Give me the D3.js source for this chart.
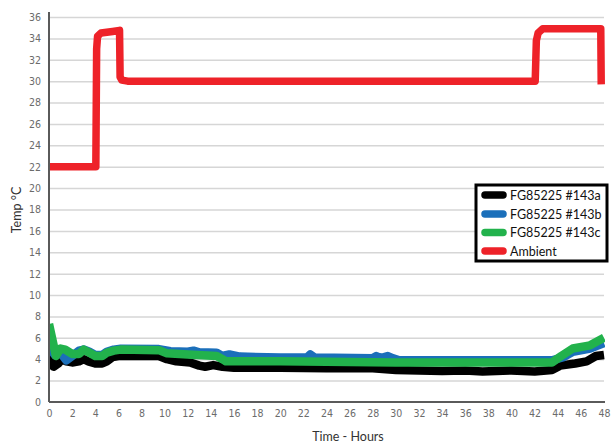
<!DOCTYPE html>
<html>
<head>
<meta charset="utf-8">
<script src="https://cdn.jsdelivr.net/npm/d3@7/dist/d3.min.js"></script>
<style>
  html, body { margin: 0; padding: 0; background: #fff; }
  svg { display: block; }
</style>
</head>
<body>
<svg id="chart" width="611" height="443"></svg>
<script>
// ---- Data ----
const seriesNames = ["FG85225 #143a", "FG85225 #143b", "FG85225 #143c", "Ambient"];
const xTicks = d3.range(0, 49, 2);
const yTicks = d3.range(0, 37, 2);

const timeA = [0, 0.4, 0.8, 1.1, 1.5, 2.0, 2.6, 3.0, 3.4, 4.0, 4.6, 5.0, 5.5, 6.0, 9.5, 10.2, 11, 12.2, 13.0, 13.5, 14.2, 15, 16, 20, 24, 28, 30, 34, 36, 37.5, 40, 42, 43.5, 44.2, 45.5, 46.5, 47.3, 48];
const valsA = [4.4, 3.3, 3.6, 4.0, 3.8, 3.7, 3.8, 4.0, 3.8, 3.6, 3.6, 3.8, 4.2, 4.3, 4.3, 4.0, 3.8, 3.7, 3.4, 3.3, 3.45, 3.3, 3.2, 3.2, 3.15, 3.15, 3.0, 2.9, 2.95, 2.85, 2.95, 2.85, 3.0, 3.4, 3.6, 3.8, 4.3, 4.4];

const timeB = [0, 0.5, 1.0, 1.5, 2.0, 2.6, 3.0, 3.5, 4.0, 4.6, 5.0, 5.6, 6.2, 9.5, 10.5, 12, 12.5, 13, 14.5, 15, 15.6, 16.5, 20, 22.3, 22.6, 23, 28, 28.3, 28.7, 29.3, 29.7, 30.3, 43.5, 44.5, 45.3, 46.8, 48];
const valsB = [5.2, 4.4, 4.6, 3.9, 4.3, 4.8, 4.9, 4.7, 4.4, 4.4, 4.7, 4.9, 4.98, 4.95, 4.75, 4.7, 4.8, 4.65, 4.6, 4.3, 4.45, 4.25, 4.15, 4.15, 4.45, 4.15, 4.1, 4.3, 4.1, 4.3, 4.1, 3.9, 3.9, 4.2, 4.7, 5.0, 5.5];

const timeC = [0, 0.6, 1.0, 1.4, 2.0, 2.6, 3.0, 3.5, 4.0, 4.6, 5.0, 5.6, 6.2, 9.5, 10.2, 12, 14.5, 15.0, 15.3, 20, 30, 43.5, 44.3, 45.3, 46.8, 48];
const valsC = [7.3, 4.3, 5.0, 4.9, 4.5, 4.5, 4.9, 4.6, 4.3, 4.3, 4.6, 4.8, 4.9, 4.85, 4.55, 4.45, 4.3, 4.0, 3.8, 3.8, 3.7, 3.7, 4.3, 5.0, 5.3, 6.0];

const timeAmb = [0, 4.05, 4.12, 4.2, 4.5, 5.5, 6.1, 6.15, 6.3, 6.8, 42.05, 42.15, 42.3, 42.7, 47.72, 47.76];
const valsAmb = [22, 22, 33.0, 34.2, 34.5, 34.65, 34.75, 30.4, 30.1, 30.0, 30.0, 33.8, 34.5, 34.9, 34.9, 29.7];

const colors = ["#000000", "#1b6fba", "#22b24c", "#ee2229"];

// ---- Layout ----
const svg = d3.select("#chart");
const mLeft = 49, mRight = 604, mTop = 17, mBottom = 402;

const x = d3.scaleLinear().domain([0, 48]).range([mLeft, mRight]);
const y = d3.scaleLinear().domain([0, 36]).range([mBottom, mTop]);

// gridlines
svg.append("g")
  .attr("transform", `translate(${mLeft},0)`)
  .call(d3.axisLeft(y).tickValues(yTicks.filter(v => v > 0)).tickSize(-(mRight - mLeft)).tickFormat(""))
  .call(g => g.select(".domain").remove())
  .call(g => g.selectAll("line").attr("stroke", "#d6d6d6").attr("stroke-width", 1.5));

// y tick labels
svg.append("g")
  .attr("transform", `translate(${mLeft},0)`)
  .call(d3.axisLeft(y).tickValues(yTicks).tickSize(0).tickPadding(8))
  .call(g => g.select(".domain").remove())
  .call(g => g.selectAll("text")
    .attr("fill", "#6b6b6b")
    .style("font-family", "'DejaVu Sans Condensed', 'Liberation Sans Narrow', sans-serif")
    .style("font-size", "10.5px"));

// x tick labels
svg.append("g")
  .attr("transform", `translate(0,${mBottom})`)
  .call(d3.axisBottom(x).tickValues(xTicks).tickSize(0).tickPadding(8))
  .call(g => g.select(".domain").remove())
  .call(g => g.selectAll("text")
    .attr("fill", "#6b6b6b")
    .style("font-family", "'DejaVu Sans Condensed', 'Liberation Sans Narrow', sans-serif")
    .style("font-size", "10.5px"));

// axis lines
svg.append("line").attr("x1", mLeft).attr("x2", mLeft).attr("y1", 12).attr("y2", mBottom)
  .attr("stroke", "#5a5a5a").attr("stroke-width", 2);
svg.append("line").attr("x1", mLeft).attr("x2", mRight + 1).attr("y1", mBottom).attr("y2", mBottom)
  .attr("stroke", "#5a5a5a").attr("stroke-width", 2);

// clip
svg.append("defs").append("clipPath").attr("id", "plotclip")
  .append("rect").attr("x", mLeft + 1).attr("y", 0).attr("width", mRight - mLeft).attr("height", mBottom - 1);

const line = d3.line().x(d => x(d[0])).y(d => y(d[1]));

const series = [
  d3.zip(timeA, valsA),
  d3.zip(timeB, valsB),
  d3.zip(timeC, valsC),
  d3.zip(timeAmb, valsAmb)
];

const plot = svg.append("g").attr("clip-path", "url(#plotclip)");
series.forEach((s, i) => {
  plot.append("path")
    .datum(s)
    .attr("d", line)
    .attr("fill", "none")
    .attr("stroke", colors[i])
    .attr("stroke-width", i === 3 ? 7.5 : 8.5)
    .attr("stroke-linejoin", "round")
    .attr("stroke-linecap", "butt");
});

// axis titles
svg.append("text")
  .attr("transform", `translate(21,210) rotate(-90)`)
  .attr("text-anchor", "middle")
  .attr("fill", "#333")
  .style("font-family", "Lato, 'Noto Sans', sans-serif")
  .style("font-size", "12.5px")
  .text("Temp °C");

svg.append("text")
  .attr("x", 348).attr("y", 441)
  .attr("text-anchor", "middle")
  .attr("fill", "#333")
  .style("font-family", "Lato, 'Noto Sans', sans-serif")
  .style("font-size", "12.5px")
  .text("Time - Hours");

// legend
const lg = svg.append("g");
lg.append("rect")
  .attr("x", 476).attr("y", 185).attr("width", 131).attr("height", 76)
  .attr("fill", "#fff").attr("stroke", "#000").attr("stroke-width", 3);
const ly = [195, 214, 232.5, 251];
seriesNames.forEach((name, i) => {
  lg.append("line")
    .attr("x1", 485).attr("x2", 503)
    .attr("y1", ly[i]).attr("y2", ly[i])
    .attr("stroke", colors[i]).attr("stroke-width", 7.5).attr("stroke-linecap", "round");
  lg.append("text")
    .attr("x", 510).attr("y", ly[i]).attr("dy", "0.36em")
    .attr("fill", "#111")
    .style("font-family", "Lato, 'Noto Sans', sans-serif")
    .style("font-size", "12.5px")
    .text(name);
});
</script>
</body>
</html>
